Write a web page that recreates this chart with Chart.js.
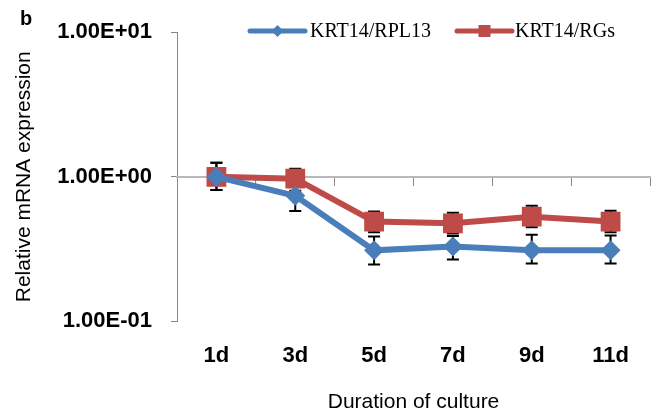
<!DOCTYPE html>
<html>
<head>
<meta charset="utf-8">
<script src="https://cdn.jsdelivr.net/npm/chart.js@4/dist/chart.umd.min.js"></script>
<style>
  html, body { margin: 0; padding: 0; background: #fff; }
  canvas { display: block; }
</style>
</head>
<body>
<canvas id="c" width="664" height="416"></canvas>
<script>
// ---- data ----
const categories = ["1d", "3d", "5d", "7d", "9d", "11d"];
const seriesNames = ["KRT14/RPL13", "KRT14/RGs"];
const rpl13 = [1.0, 0.74, 0.31, 0.33, 0.31, 0.31];
const rpl13Upper = [1.25, 0.90, 0.386, 0.39, 0.398, 0.392];
const rpl13Lower = [0.81, 0.58, 0.247, 0.268, 0.251, 0.251];
const rgs = [1.0, 0.97, 0.49, 0.477, 0.53, 0.49];
const rgsUpper = [1.25, 1.135, 0.576, 0.565, 0.63, 0.583];
const rgsLower = [0.81, 0.80, 0.413, 0.405, 0.447, 0.413];
const yTickValues = [0.1, 1, 10];
const yTitle = "Relative mRNA expression";
const xTitle = "Duration of culture";
const panelLabel = "b";

const BLUE = "#4a7ebb";
const RED = "#be4b48";

function sci(v) {
  const e = Math.round(Math.log10(v));
  const m = v / Math.pow(10, e);
  return m.toFixed(2) + "E" + (e < 0 ? "-" : "+") + String(Math.abs(e)).padStart(2, "0");
}

const errorBars = {
  id: "errorBars",
  beforeDatasetsDraw(chart) {
    const ctx = chart.ctx;
    const xs = chart.scales.x, ys = chart.scales.y;
    const sets = [[rpl13Upper, rpl13Lower], [rgsUpper, rgsLower]];
    ctx.save();
    ctx.strokeStyle = "#000";
    ctx.lineWidth = 2;
    sets.forEach(([up, lo]) => {
      up.forEach((u, i) => {
        const x = xs.getPixelForValue(i);
        const y1 = ys.getPixelForValue(u);
        const y2 = ys.getPixelForValue(lo[i]);
        ctx.beginPath();
        ctx.moveTo(x, y1); ctx.lineTo(x, y2);
        ctx.moveTo(x - 6, y1); ctx.lineTo(x + 6, y1);
        ctx.moveTo(x - 6, y2); ctx.lineTo(x + 6, y2);
        ctx.stroke();
      });
    });
    ctx.restore();
  }
};

const customLegend = {
  id: "customLegend",
  afterDraw(chart) {
    const ctx = chart.ctx;
    ctx.save();
    // panel label
    ctx.fillStyle = "#000";
    ctx.font = "bold 20px 'Liberation Sans', Arial, sans-serif";
    ctx.textAlign = "left";
    ctx.textBaseline = "alphabetic";
    ctx.fillText(panelLabel, 20, 25);

    const y = 31;
    const items = [
      { x0: 250, x1: 305, tx: 310, color: BLUE, shape: "diamond", label: seriesNames[0] },
      { x0: 457, x1: 512, tx: 515, color: RED, shape: "square", label: seriesNames[1] }
    ];
    items.forEach(it => {
      ctx.strokeStyle = it.color;
      ctx.lineWidth = 5;
      ctx.lineCap = "round";
      ctx.beginPath(); ctx.moveTo(it.x0, y); ctx.lineTo(it.x1, y); ctx.stroke();
      const cx = (it.x0 + it.x1) / 2;
      ctx.fillStyle = it.color;
      ctx.beginPath();
      if (it.shape === "diamond") {
        ctx.moveTo(cx, y - 6); ctx.lineTo(cx + 6, y); ctx.lineTo(cx, y + 6); ctx.lineTo(cx - 6, y);
        ctx.closePath();
      } else {
        ctx.rect(cx - 6, y - 6, 12, 12);
      }
      ctx.fill();
      ctx.fillStyle = "#000";
      ctx.font = "20px 'Liberation Serif', 'Times New Roman', serif";
      ctx.textBaseline = "middle";
      ctx.fillText(it.label, it.tx, y + 1);
    });
    ctx.restore();
  }
};

new Chart(document.getElementById("c"), {
  type: "line",
  data: {
    labels: categories,
    datasets: [
      {
        label: seriesNames[0],
        data: rpl13,
        borderColor: BLUE,
        backgroundColor: BLUE,
        borderWidth: 6,
        pointStyle: "rectRot",
        pointRadius: 10,
        pointBorderWidth: 0,
        tension: 0
      },
      {
        label: seriesNames[1],
        data: rgs,
        borderColor: RED,
        backgroundColor: RED,
        borderWidth: 6,
        pointStyle: "rect",
        pointRadius: 14,
        pointBorderWidth: 0,
        tension: 0
      }
    ]
  },
  options: {
    responsive: false,
    animation: false,
    devicePixelRatio: 1,
    layout: { padding: { left: 4, right: 12, top: 31, bottom: 1 } },
    plugins: { legend: { display: false }, tooltip: { enabled: false } },
    scales: {
      y: {
        type: "logarithmic",
        position: "left",
        min: 0.1,
        max: 10,
        afterBuildTicks(scale) { scale.ticks = yTickValues.map(v => ({ value: v })); },
        ticks: {
          callback: v => sci(v),
          color: "#000",
          font: { family: "'Liberation Sans', Arial, sans-serif", size: 22, weight: "bold" },
          padding: 19
        },
        grid: { drawOnChartArea: false, drawTicks: true, tickLength: 6, color: "#868686" },
        border: { color: "#868686", width: 1 },
        title: {
          display: true,
          text: yTitle,
          color: "#000",
          font: { family: "'Liberation Sans', Arial, sans-serif", size: 21 },
          padding: { top: 8, bottom: 1 }
        }
      },
      x: {
        type: "category",
        position: "bottom",
        offset: true,
        ticks: {
          color: "#000",
          font: { family: "'Liberation Sans', Arial, sans-serif", size: 22, weight: "bold" },
          padding: 21,
          maxRotation: 0
        },
        grid: { display: false, drawTicks: false },
        border: { display: false },
        title: {
          display: true,
          text: xTitle,
          color: "#000",
          font: { family: "'Liberation Sans', Arial, sans-serif", size: 21 },
          padding: { top: 0, bottom: 0 }
        }
      },
      x2: {
        type: "category",
        labels: categories,
        position: { y: 1 },
        offset: true,
        ticks: { display: false },
        grid: { drawOnChartArea: false, drawTicks: true, tickLength: 8, color: "#868686", offset: true },
        border: { color: "#b8b8b8", width: 2 }
      }
    }
  },
  plugins: [errorBars, customLegend]
});
</script>
</body>
</html>
